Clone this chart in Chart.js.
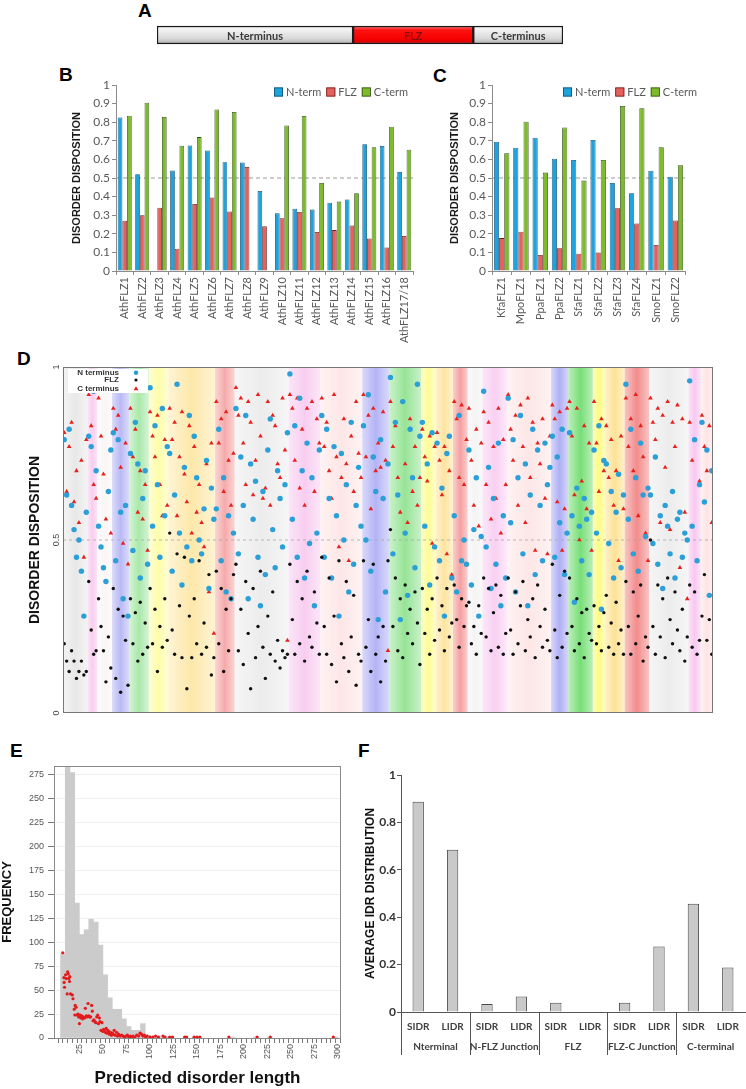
<!DOCTYPE html>
<html><head><meta charset="utf-8">
<script src="https://cdn.jsdelivr.net/npm/chart.js@4.4.1/dist/chart.umd.min.js"></script>
<style>
html,body{margin:0;padding:0;background:#fff;width:746px;height:1089px;overflow:hidden;position:relative;font-family:Arial,"Liberation Sans",sans-serif}
canvas{position:absolute}
.lbl{position:absolute;font:bold 19px Arial,"Liberation Sans",sans-serif;line-height:19px;color:#000}
</style></head><body>
<div class="lbl" style="left:138px;top:1px">A</div>
<div class="lbl" style="left:59px;top:65px">B</div>
<div class="lbl" style="left:433px;top:66px">C</div>
<div class="lbl" style="left:17px;top:349px">D</div>
<div class="lbl" style="left:10px;top:741px">E</div>
<div class="lbl" style="left:358px;top:741px">F</div>
<canvas id="cA" width="420" height="40" style="left:150px;top:15px"></canvas>
<canvas id="cB" width="365" height="295" style="left:55px;top:60px"></canvas>
<canvas id="cC" width="326" height="295" style="left:420px;top:60px"></canvas>
<canvas id="cD" width="746" height="370" style="left:0px;top:355px"></canvas>
<canvas id="cE" width="360" height="359" style="left:0px;top:730px"></canvas>
<canvas id="cF" width="386" height="359" style="left:360px;top:730px"></canvas>
<script>
// ---------- Panel A ----------
const domainNames = ['N-terminus', 'FLZ', 'C-terminus'];
const domainShare = [48.3, 29.6, 22.1];

// ---------- Panel B ----------
const athNames = ['AthFLZ1','AthFLZ2','AthFLZ3','AthFLZ4','AthFLZ5','AthFLZ6','AthFLZ7','AthFLZ8','AthFLZ9','AthFLZ10','AthFLZ11','AthFLZ12','AthFLZ13','AthFLZ14','AthFLZ15','AthFLZ16','AthFLZ17/18'];
const athNterm = [0.825,0.52,null,0.54,0.675,0.648,0.585,0.583,0.43,0.31,0.335,0.33,0.367,0.385,0.682,0.672,0.533];
const athFLZ   = [0.27,0.30,0.34,0.12,0.36,0.395,0.32,0.56,0.24,0.283,0.317,0.21,0.22,0.245,0.175,0.127,0.188];
const athCterm = [0.835,0.905,0.828,0.673,0.72,0.868,0.855,null,null,0.782,0.833,0.473,0.373,0.418,0.665,0.776,0.652];

// ---------- Panel C ----------
const otherNames = ['KfaFLZ1','MpoFLZ1','PpaFLZ1','PpaFLZ2','SfaFLZ1','SfaFLZ2','SfaFLZ3','SfaFLZ4','SmoFLZ1','SmoFLZ2'];
const otherNterm = [0.695,0.663,0.717,0.604,0.597,0.704,0.473,0.418,0.539,0.507];
const otherFLZ   = [0.177,0.211,0.086,0.122,0.093,0.099,0.337,0.256,0.14,0.272];
const otherCterm = [0.633,0.803,0.529,0.772,0.486,0.597,0.887,0.875,0.665,0.568];

// ---------- Panel D ----------
const nTermD = [
.79,.63,.82,.60,.53,.45,.50,.41,.28,.58,
.80,.77,.93,.70,
.54,.48,.42,.38,.64,.76,
.81,.44,.79,.58,.33,.60,.28,
.75,.47,.84,.72,.39,.62,.70,.43,
.94,.54,.83,.66,.45,.88,.57,.77,
.75,.41,.63,.95,.52,.37,.71,.48,.86,.44,.80,.68,.50,.46,.59,.73,.36,.65,.56,
.59,.82,.44,.68,.35,.57,.33,.52,
.88,.46,.74,.60,.86,.33,.72,.56,.67,.45,.31,.64,.40,.76,.85,.53,.42,.70,.62,.48,.66,.81,
.98,.56,.83,.45,.91,.70,.39,.78,.49,.68,.31,.52,.76,
.86,.45,.82,.62,.39,.77,.57,.28,.75,.50,.66,.35,.84,.43,.60,.71,.54,
.83,.50,.92,.41,.74,.64,.27,.79,.62,.35,.72,
.97,.46,.84,.63,.27,.90,.52,.34,.82,.68,.42,.95,.80,
.84,.54,.72,.37,.81,.48,
.78,.44,.65,.28,.75,.80,.39,
.57,.35,.86,.44,.50,.43,
.76,.37,.53,.68,.28,.51,
.93,.48,.71,.36,.62,.43,.78,.31,.57,.39,
.91,.55,.79,.35,.68,.86,.46,.72,.31,.63,.82,.40,.76,.60,.44,.78,.66,.71,
.80,.45,.74,.55,.82,.40,.52,
.81,.57,.32,.65,.54,.44,.62,.56,.40,.58,
.76,.52,.83,.30,.73,
.72,.49,.64,.39,.58,.69,.42,.63,
.95,.56,.82,.46,.68,.41,.78,.63,.51,.65,
.63,.49,.74,.43,.57,.36,.60,.54,.46,.64,.39,.56,.58,.45,.52,.50,
.96,.54,.79,.44,.66,
.84,.61,.76,.34,.70];
const flzD = [
.20,.15,.12,.18,.15,.10,.12,.15,.11,.12,
.38,.24,.17,.18,
.33,.25,.18,.09,.22,.13,
.36,.10,.30,.06,.28,.21,.08,
.33,.20,.29,.15,.32,.17,.26,.19,
.36,.20,.30,.12,.25,.19,.33,.21,
.52,.24,.17,.46,.31,.16,.45,.07,.28,.16,.33,.20,.44,.17,.26,.19,.40,.11,.16,
.41,.20,.36,.12,.30,.18,.33,.40,
.43,.18,.30,.14,.38,.23,.07,.36,.16,.25,.41,.19,.10,.28,.17,.35,.15,.21,.13,.18,.16,.17,
.43,.27,.17,.38,.20,.33,.15,.41,.22,.19,.35,.26,.17,
.45,.25,.17,.39,.14,.28,.09,.44,.20,.16,.38,.12,.22,.34,.08,.17,.15,
.44,.19,.27,.12,.43,.17,.22,.09,.25,.15,.44,
.53,.25,.39,.18,.33,.16,.37,.23,.30,.20,.35,.26,.14,
.36,.23,.30,.17,.33,.21,
.39,.24,.31,.18,.36,.22,.26,
.37,.27,.19,.33,.25,.31,
.32,.20,.25,.17,.31,.23,
.39,.22,.36,.18,.29,.37,.19,.34,.17,.23,
.39,.24,.17,.35,.20,.31,.38,.18,.27,.22,.33,.16,.37,.25,.19,.30,.21,.18,
.43,.24,.16,.34,.19,.41,.23,
.39,.25,.18,.33,.20,.29,.16,.30,.23,.21,
.31,.20,.25,.18,.29,
.34,.19,.26,.17,.32,.20,.24,.17,
.38,.25,.17,.35,.20,.28,.37,.15,.22,.19,
.50,.25,.17,.37,.22,.33,.16,.39,.27,.20,.35,.24,.18,.30,.15,.22,
.37,.19,.35,.17,.21,
.28,.40,.21,.27,.17];
const cTermD = [
.81,.64,.77,.84,.61,.70,.55,.73,.45,.79,
.92,.83,.66,.62,
.91,.80,.69,.56,.64,.52,
.88,.82,.86,.71,.49,.78,.43,
.88,.74,.82,.58,.70,.56,.66,.47,
.87,.80,.74,.86,.66,.57,.79,.60,
.88,.79,.84,.57,.74,.87,.69,.61,.83,.52,.77,.58,.66,.55,.48,.72,.35,.78,.23,
.90,.78,.85,.64,.87,.73,.60,.75,
.94,.86,.91,.78,.66,.90,.84,.63,.73,.92,.80,.62,.65,.90,.60,.86,.83,.72,.68,.91,.76,.21,
.92,.88,.73,.91,.65,.82,.60,.88,.49,.90,.64,.85,.78,
.91,.77,.84,.70,.62,.92,.74,.48,.68,.85,.72,.44,.80,.64,.90,.75,.68,
.92,.74,.86,.59,.88,.70,.78,.71,.87,.73,.18,
.90,.77,.83,.68,.58,.90,.72,.55,.85,.64,.77,.60,.68,
.82,.74,.67,.80,.49,.77,
.81,.73,.63,.77,.46,.70,.40,
.90,.85,.68,.89,.66,.79,
.88,.73,.60,.82,.54,.78,
.87,.66,.84,.56,.77,.62,.88,.52,.79,.66,
.92,.82,.73,.86,.60,.89,.77,.55,.91,.68,.84,.47,.78,.72,.85,.62,.46,.80,
.89,.85,.61,.87,.47,.59,.88,
.90,.80,.63,.88,.50,.67,.83,.59,.78,.47,
.90,.78,.64,.85,.70,
.83,.68,.79,.60,.70,.44,.80,.59,
.91,.77,.85,.70,.92,.57,.83,.74,.52,.44,
.91,.84,.79,.88,.55,.86,.71,.90,.53,.84,.77,.89,.42,.85,.58,.33,
.84,.73,.79,.44,.67,
.86,.77,.70,.83,.55];
// groups (protein index boundaries) and their tint colours
const bandEdges = [0,10,14,20,27,35,43,62,70,92,105,122,133,146,152,159,165,171,181,199,206,216,221,229,239,255,260,265];
const bandColors = [
[232,232,232],[248,205,238],[250,246,246],[185,185,245],[170,232,170],[253,252,170],[253,232,170],[246,170,170],
[236,236,236],[248,205,240],[253,230,230],[180,180,246],[150,228,150],[253,252,150],[253,228,160],[245,160,160],
[244,244,244],[249,208,242],[253,230,230],[175,175,245],[120,222,120],[253,250,130],[253,226,150],[242,140,140],
[236,236,236],[248,200,240],[253,228,228]];

// ---------- Panel E ----------
const eBinStart = [5,10,15,20,25,30,35,40,45,50,55,60,65,70,75,80,85,90,95,100,105,110,115,120,135,145,150,185,210,225,295];
const eBinCount = [88,300,277,141,108,113,124,121,97,66,42,30,30,20,12,8,8,15,3,2,1,2,1,1,1,1,1,1,1,1,1];
const eDotLen = [7.3,8.5,8.8,9.2,10.3,11,12.5,13.2,13.8,14.5,
12,14.8,15.6,17.5,18.2,19.5,20.5,20.2,21.5,22.5,
23.5,24.2,25,25.8,26.5,27.5,28.5,29.5,30.5,31.3,
32.5,33.3,34.2,35,36,37,38,38.8,39.5,40.5,
41.5,42.5,43.5,44.5,45.3,46.2,47,48,49,49.8,
50.8,51.7,52.5,53.5,54.3,55.2,56,57,58,59,
60,61,62,63,64.5,65.5,66.5,67.5,68.5,70,
71.5,73,74.5,76,77.5,79,80.5,82,84,86,
88,89.5,91,92.5,94,95.5,97,100,103,106,
109,114,116,121,124,137,139,147,150,153,
184,214,228,295];
const eDotFreq = [89,63,58,53,66,62,69,67,62,59,
46,64,46,45,41,30,34,24,32,24,
25,22,15,24,21,23,20,22,21,31,
23,22,36,23,22,22,34,28,18,19,
17,16,22,24,15,21,17,8,16,7,
9,7,6,10,5,8,7,4,6,3,
5,4,8,3,6,2,4,3,2,3,
2,1,2,3,1,2,1,2,1,3,
2,5,4,2,3,1,2,1,1,2,
1,2,1,1,1,1,1,1,1,1,
1,1,1,1];

// ---------- Panel F ----------
const fCats = ['SIDR','LIDR','SIDR','LIDR','SIDR','LIDR','SIDR','LIDR','SIDR','LIDR'];
const fGroups = ['Nterminal','N-FLZ Junction','FLZ','FLZ-C Junction','C-terminal'];
const fValues = [0.887,0.685,0.034,0.065,0.039,0,0.039,0.276,0.457,0.188];

Chart.defaults.animation = false;
Chart.defaults.responsive = false;
Chart.defaults.devicePixelRatio = 1;
Chart.defaults.font.family = 'Arial, "Liberation Sans", sans-serif';
Chart.defaults.plugins.legend.display = false;
Chart.defaults.plugins.tooltip.enabled = false;
const CAL = 'Lato, "Open Sans", sans-serif';

// ===== A =====
function gradA(ctx, isRed) {
  const ch = ctx.chart, ca = ch.chartArea;
  if (!ca) return isRed ? '#f00' : '#ddd';
  const mid = (ca.top + ca.bottom) / 2;
  const g = ch.ctx.createLinearGradient(0, mid - 9, 0, mid + 9);
  if (isRed) { g.addColorStop(0,'#ff6a6a'); g.addColorStop(0.25,'#ff1010'); g.addColorStop(0.75,'#f40000'); g.addColorStop(1,'#c80000'); }
  else { g.addColorStop(0,'#fafafa'); g.addColorStop(0.3,'#ededed'); g.addColorStop(0.7,'#d8d8d8'); g.addColorStop(1,'#b0b0b0'); }
  return g;
}
new Chart(document.getElementById('cA'), {
  type: 'bar',
  data: { labels: ['protein'], datasets: domainShare.map((v, i) => ({
    label: domainNames[i], data: [v], backgroundColor: c => gradA(c, i === 1),
    borderColor: '#1a1a1a', borderWidth: 1.5, borderSkipped: false, barThickness: 18 })) },
  options: { indexAxis: 'y', layout: { padding: { left: 7, right: 7, top: 0, bottom: 0 } },
    scales: { x: { display: false, stacked: true, min: 0, max: 100 }, y: { display: false, stacked: true } } },
  plugins: [{ id: 'aLabels', afterDatasetsDraw(chart) {
    const ctx = chart.ctx; ctx.save();
    ctx.font = 'bold 11px ' + CAL; ctx.textAlign = 'center'; ctx.textBaseline = 'middle';
    chart.data.datasets.forEach((ds, i) => {
      const el = chart.getDatasetMeta(i).data[0];
      ctx.fillStyle = i === 1 ? '#8a0c0c' : '#3a3a3a';
      ctx.fillText(domainNames[i], (el.x + el.base) / 2, el.y + 1);
    });
    ctx.restore();
  } }]
});

// ===== B & C =====
const halfLine = { id: 'halfLine', beforeDatasetsDraw(chart) {
  const { ctx, chartArea: ca, scales: { y } } = chart;
  const py = y.getPixelForValue(0.5);
  ctx.save(); ctx.strokeStyle = '#9a9a9a'; ctx.lineWidth = 1; ctx.setLineDash([4, 3]);
  ctx.beginPath(); ctx.moveTo(ca.left, py); ctx.lineTo(ca.right, py); ctx.stroke(); ctx.restore();
} };
function legendPlugin(rightX) {
  return { id: 'lgd', afterDraw(chart) {
    const ctx = chart.ctx; ctx.save();
    ctx.font = '11px ' + CAL; ctx.textBaseline = 'middle'; ctx.textAlign = 'left';
    const items = chart.data.datasets;
    const widths = items.map(d => 12 + ctx.measureText(d.label).width);
    const gap = 5;
    let x = rightX - widths.reduce((a, b) => a + b, 0) - gap * (items.length - 1);
    const y = chart.chartArea.top + 7;
    items.forEach((d, i) => {
      ctx.fillStyle = d.backgroundColor; ctx.fillRect(x, y - 4.5, 9, 9);
      ctx.strokeStyle = d.borderColor; ctx.lineWidth = 0.8; ctx.strokeRect(x + 0.4, y - 4.1, 8.2, 8.2);
      ctx.fillStyle = '#595959'; ctx.fillText(d.label, x + 12, y + 0.5);
      x += widths[i] + gap;
    });
    ctx.restore();
  } };
}
function barPanel(id, names, nV, fV, cV, yW, padR, titlePad, legendRight) {
  return new Chart(document.getElementById(id), {
    type: 'bar',
    data: { labels: names, datasets: [
      { label: 'N-term', data: nV, backgroundColor: '#1fa3df', borderColor: '#0f4d6c', borderWidth: 0.8 },
      { label: 'FLZ', data: fV, backgroundColor: '#e6605e', borderColor: '#6a1d1c', borderWidth: 0.8 },
      { label: 'C-term', data: cV, backgroundColor: '#7dbb2d', borderColor: '#344f17', borderWidth: 0.8 } ] },
    options: {
      layout: { padding: { top: 25, right: padR, left: 0, bottom: 0 } },
      datasets: { bar: { categoryPercentage: 0.8, barPercentage: 1 } },
      scales: {
        x: { grid: { drawOnChartArea: false, tickLength: 4, color: '#8c8c8c', offset: true }, border: { color: '#8c8c8c' },
          ticks: { autoSkip: false, minRotation: 90, maxRotation: 90, padding: 2, color: '#595959', font: { size: 11, family: CAL } },
          afterFit(s) { s.height = 84; } },
        y: { min: 0, max: 1, grid: { drawOnChartArea: false, tickLength: 4, color: '#8c8c8c' }, border: { color: '#8c8c8c' },
          ticks: { stepSize: 0.1, padding: 2, color: '#595959', font: { size: 12, family: CAL }, callback: v => String(+v.toFixed(1)) },
          title: { display: true, text: 'DISORDER DISPOSITION', color: '#1a1a1a', font: { size: 11, weight: 'bold', family: 'Arial' }, padding: { top: titlePad, bottom: 0 } },
          afterFit(s) { s.width = yW; } }
      }
    },
    plugins: [halfLine, legendPlugin(legendRight)]
  });
}
barPanel('cB', athNames, athNterm, athFLZ, athCterm, 61, 7, 15, 353);
barPanel('cC', otherNames, otherNterm, otherFLZ, otherCterm, 72, 61, 28, 277);

// ===== D =====
const idx = a => a.map((v, i) => ({ x: i + 0.5, y: v }));
const dDecor = {
  id: 'dDecor',
  beforeDatasetsDraw(chart) {
    const { ctx, chartArea: ca, scales: { x, y } } = chart;
    ctx.save();
    for (let i = 0; i < bandColors.length; i++) {
      const x0 = x.getPixelForValue(bandEdges[i]), x1 = x.getPixelForValue(bandEdges[i + 1]);
      const [r, g, b] = bandColors[i];
      const gr = ctx.createLinearGradient(x0, 0, x1, 0);
      gr.addColorStop(0, `rgba(${r},${g},${b},0.5)`);
      gr.addColorStop(0.5, `rgba(${r},${g},${b},1)`);
      gr.addColorStop(1, `rgba(${r},${g},${b},0.5)`);
      ctx.fillStyle = gr; ctx.fillRect(x0, ca.top, x1 - x0, ca.bottom - ca.top);
    }
    const py = y.getPixelForValue(0.5);
    ctx.strokeStyle = '#a8a8a8'; ctx.lineWidth = 0.8; ctx.setLineDash([3, 3]);
    ctx.beginPath(); ctx.moveTo(ca.left, py); ctx.lineTo(ca.right, py); ctx.stroke();
    ctx.restore();
  },
  afterDatasetsDraw(chart) {
    const { ctx, chartArea: ca, scales: { y } } = chart;
    ctx.save();
    ctx.strokeStyle = '#777'; ctx.lineWidth = 1; ctx.strokeRect(ca.left + 0.5, ca.top + 0.5, ca.right - ca.left - 1, ca.bottom - ca.top - 1);
    // legend
    ctx.fillStyle = '#fff'; ctx.fillRect(ca.left + 5, ca.top + 2, 80, 24);
    ctx.font = 'bold 8px Arial'; ctx.textAlign = 'right'; ctx.textBaseline = 'middle'; ctx.fillStyle = '#333';
    const rows = [['N terminus', 5.7], ['FLZ', 13], ['C terminus', 21.5]];
    rows.forEach(r => ctx.fillText(r[0], ca.left + 56, ca.top + r[1]));
    const sx = ca.left + 73;
    ctx.fillStyle = '#2a9fd8'; ctx.beginPath(); ctx.arc(sx, ca.top + 5.7, 2.3, 0, 2 * Math.PI); ctx.fill();
    ctx.fillStyle = '#111'; ctx.beginPath(); ctx.arc(sx, ca.top + 13, 1.6, 0, 2 * Math.PI); ctx.fill();
    ctx.fillStyle = '#e8201c'; ctx.beginPath(); ctx.moveTo(sx, ca.top + 19.3); ctx.lineTo(sx + 2.4, ca.top + 23.3); ctx.lineTo(sx - 2.4, ca.top + 23.3); ctx.closePath(); ctx.fill();
    // y tick labels (rotated)
    ctx.font = '9px Arial'; ctx.fillStyle = '#444'; ctx.textAlign = 'center';
    [[1, '1'], [0.5, '0.5'], [0, '0']].forEach(t => {
      ctx.save(); ctx.translate(ca.left - 6, y.getPixelForValue(t[0])); ctx.rotate(-Math.PI / 2); ctx.fillText(t[1], 0, 0); ctx.restore();
    });
    // y title
    ctx.font = 'bold 14px Arial'; ctx.fillStyle = '#111';
    ctx.save(); ctx.translate(35, (ca.top + ca.bottom) / 2); ctx.rotate(-Math.PI / 2); ctx.fillText('DISORDER DISPOSITION', 0, 0); ctx.restore();
    ctx.restore();
  }
};
new Chart(document.getElementById('cD'), {
  type: 'scatter',
  data: { datasets: [
    { label: 'FLZ', data: idx(flzD), pointRadius: 1.7, backgroundColor: '#111', borderWidth: 0 },
    { label: 'N terminus', data: idx(nTermD), pointRadius: 2.7, backgroundColor: '#2a9fd8', borderWidth: 0 },
    { label: 'C terminus', data: idx(cTermD), pointStyle: 'triangle', pointRadius: 2.7, backgroundColor: '#e8201c', borderWidth: 0 } ] },
  options: {
    layout: { padding: { left: 63, right: 33, top: 12, bottom: 12 } },
    scales: { x: { display: false, min: 0, max: 265 }, y: { display: false, min: 0, max: 1 } }
  },
  plugins: [dDecor]
});

// ===== E =====
new Chart(document.getElementById('cE'), {
  type: 'bar',
  data: { datasets: [
    { type: 'scatter', data: eDotLen.map((v, i) => ({ x: v, y: eDotFreq[i] })), backgroundColor: '#e31a1c', pointRadius: 1.6, borderWidth: 0 },
    { type: 'bar', data: eBinStart.map((v, i) => ({ x: v + 2.5, y: eBinCount[i] })), backgroundColor: '#cbcbcb', borderWidth: 0, barPercentage: 1, categoryPercentage: 1 } ] },
  options: {
    layout: { padding: { top: 36, right: 19, left: 0, bottom: 0 } },
    scales: {
      x: { type: 'linear', min: -2, max: 303.2, offset: false,
        grid: { drawOnChartArea: false, tickLength: 5, color: '#777' }, border: { display: false },
        ticks: { stepSize: 5, includeBounds: false, autoSkip: false, minRotation: 90, maxRotation: 90, padding: 1, color: '#555', font: { size: 9 },
          callback: v => (v > 0 && Math.abs(v % 25) < 1e-6) ? String(Math.round(v)) : '' },
        title: { display: true, text: 'Predicted disorder length', color: '#111', font: { size: 17, weight: 'bold' }, padding: { top: 0, bottom: 0 } },
        afterFit(s) { s.height = 51; } },
      y: { min: 0, max: 284,
        grid: { drawOnChartArea: true, color: '#efefef', tickColor: '#777', tickLength: 6 }, border: { display: false },
        ticks: { stepSize: 25, includeBounds: false, padding: 4, color: '#555', font: { size: 9 }, callback: v => v % 25 === 0 ? String(v) : '' },
        title: { display: true, text: 'FREQUENCY', color: '#111', font: { size: 13, weight: 'bold' }, padding: { top: 0, bottom: 0 } },
        afterFit(s) { s.width = 54; } }
    }
  },
  plugins: [{ id: 'eFrame', afterDatasetsDraw(chart) {
    const { ctx, chartArea: ca } = chart; ctx.save(); ctx.strokeStyle = '#8a8a8a'; ctx.lineWidth = 1;
    ctx.strokeRect(ca.left + 0.5, ca.top + 0.5, ca.right - ca.left - 1, ca.bottom - ca.top); ctx.restore();
  } }]
});

// ===== F =====
new Chart(document.getElementById('cF'), {
  type: 'bar',
  data: { labels: fCats, datasets: [{ data: fValues, backgroundColor: '#c9c9c9', borderColor: '#4a4a4a', borderWidth: 1, categoryPercentage: 1, barPercentage: 0.33 }] },
  options: {
    layout: { padding: { top: 45, right: 1, left: 0, bottom: 0 } },
    scales: {
      x: { grid: { display: false, drawTicks: false }, border: { color: '#555' }, ticks: { display: false },
        afterFit(s) { s.height = 77; } },
      y: { min: 0, max: 1, grid: { drawOnChartArea: false, tickLength: 4, color: '#555' }, border: { color: '#555' },
        ticks: { stepSize: 0.2, padding: 1, color: '#333', font: { size: 12, weight: 'bold', family: CAL }, callback: v => String(+v.toFixed(1)) },
        title: { display: true, text: 'AVERAGE IDR DISTRIBUTION', color: '#111', font: { size: 12, weight: 'bold' }, padding: { top: 3, bottom: 0 } },
        afterFit(s) { s.width = 41; } }
    }
  },
  plugins: [{ id: 'fGroups', afterDraw(chart) {
    const { ctx, chartArea: ca, scales: { x } } = chart;
    ctx.save(); ctx.strokeStyle = '#555'; ctx.lineWidth = 1;
    ctx.font = 'bold 10px ' + CAL; ctx.fillStyle = '#404040'; ctx.textAlign = 'center'; ctx.textBaseline = 'middle';
    fCats.forEach((c, i) => ctx.fillText(c, x.getPixelForValue(i), ca.bottom + 15));
    fGroups.forEach((g, k) => {
      const xb = k === 0 ? ca.left : (x.getPixelForValue(2 * k - 1) + x.getPixelForValue(2 * k)) / 2;
      ctx.beginPath(); ctx.moveTo(Math.round(xb) + 0.5, ca.bottom); ctx.lineTo(Math.round(xb) + 0.5, ca.bottom + 43); ctx.stroke();
      ctx.fillText(g, (x.getPixelForValue(2 * k) + x.getPixelForValue(2 * k + 1)) / 2, ca.bottom + 35);
    });
    ctx.restore();
  } }]
});
</script>
</body></html>
